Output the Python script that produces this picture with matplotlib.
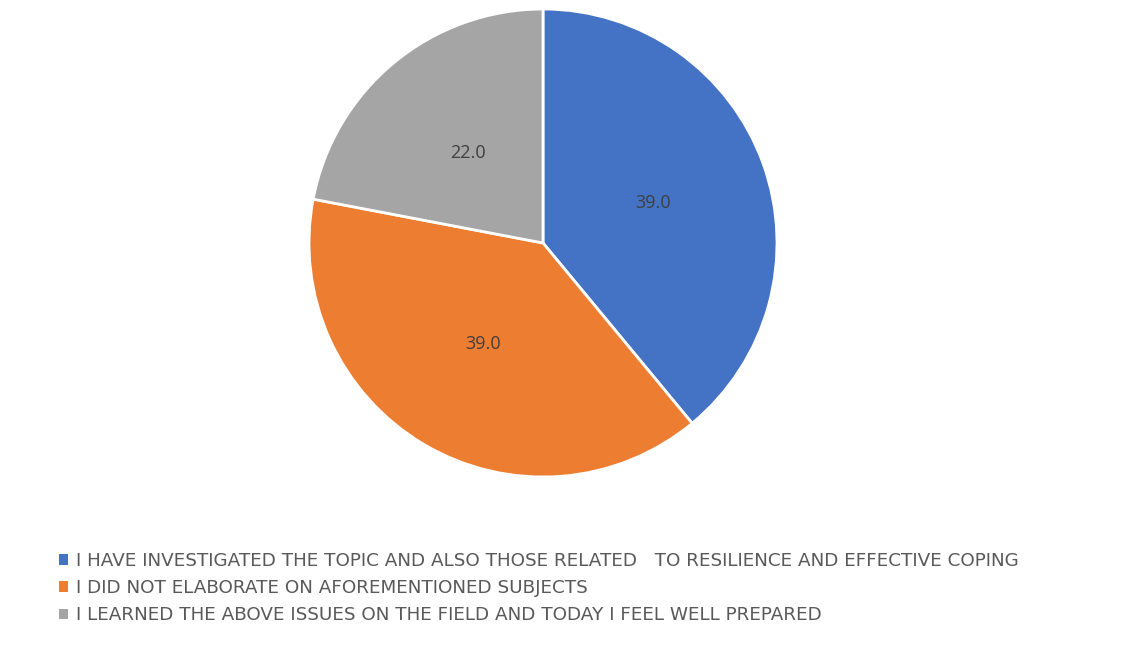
import matplotlib
matplotlib.use("Agg")
import matplotlib.pyplot as plt
from matplotlib.patches import Patch

categories = [
    "I HAVE INVESTIGATED THE TOPIC AND ALSO THOSE RELATED   TO RESILIENCE AND EFFECTIVE COPING",
    "I DID NOT ELABORATE ON AFOREMENTIONED SUBJECTS",
    "I LEARNED THE ABOVE ISSUES ON THE FIELD AND TODAY I FEEL WELL PREPARED",
]
values = [39.0, 39.0, 22.0]
colors = ["#4472C4", "#ED7D31", "#A5A5A5"]

W, H = 1127, 647
fig = plt.figure(figsize=(W / 100, H / 100), dpi=100)
fig.patch.set_facecolor("white")

# square axes holding the pie
cx, cy, r = 543, 243, 234
ax = fig.add_axes([(cx - r) / W, (H - cy - r) / H, 2 * r / W, 2 * r / H])
wedges, texts, autotexts = ax.pie(
    values,
    colors=colors,
    startangle=90,
    counterclock=False,
    autopct=lambda p: f"{p:.1f}",
    pctdistance=0.5,
    wedgeprops=dict(edgecolor="white", linewidth=2),
    textprops=dict(color="#404040", fontsize=13, family="Open Sans"),
)
ax.set_xlim(-1.0, 1.0)
ax.set_ylim(-1.0, 1.0)
ax.set_aspect("equal")
ax.axis("off")

handles = [Patch(facecolor=c, edgecolor="none") for c in colors]
fig.legend(
    handles, categories,
    loc="upper left",
    bbox_to_anchor=(59 / W, 1 - 552 / H),
    frameon=False,
    handlelength=0.5, handleheight=0.5, handletextpad=0.4,
    labelspacing=0.5,
    borderpad=0, borderaxespad=0,
    prop=dict(family="DejaVu Sans", size=13.2),
    labelcolor="#595959",
)

fig.savefig("out.png", dpi=100, facecolor="white")
